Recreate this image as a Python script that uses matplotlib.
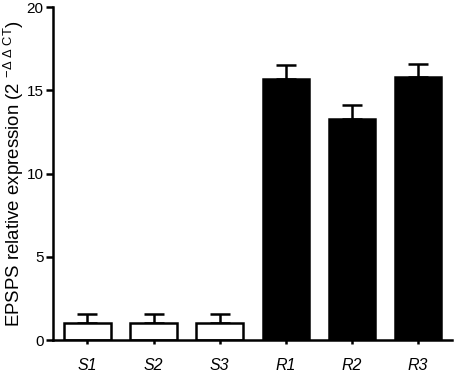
import numpy as np
import matplotlib
matplotlib.use("Agg")
import matplotlib.pyplot as plt

plt.rcParams['font.family'] = ['Liberation Sans', 'DejaVu Sans']
plt.rcParams['mathtext.fontset'] = 'custom'
plt.rcParams['mathtext.rm'] = 'Liberation Sans'
plt.rcParams['mathtext.it'] = 'Liberation Sans:italic'

samples = ['S1', 'S2', 'S3', 'R1', 'R2', 'R3']
expression = [1.0, 1.0, 1.0, 15.7, 13.3, 15.8]
sem = [0.55, 0.55, 0.55, 0.8, 0.8, 0.8]
fills = ['white', 'white', 'white', 'black', 'black', 'black']

fig = plt.figure(figsize=(4.54, 3.77), dpi=100)
ax = fig.add_axes([0.117, 0.098, 0.879, 0.883])

x = np.arange(len(samples))
lw = 1.8
ax.bar(x, expression, width=0.7, color=fills, edgecolor='black', linewidth=lw, zorder=2)
ax.errorbar(x, expression, yerr=[np.zeros(len(sem)), sem], fmt='none', ecolor='black',
            elinewidth=lw, capsize=7.5, capthick=lw, zorder=1)

ax.set_xlim(-0.52, 5.52)
ax.set_ylim(0, 20)
ax.set_yticks([0, 5, 10, 15, 20])
ax.set_xticks(x)
ax.set_xticklabels(samples, fontstyle='italic', fontsize=11.5)
ax.tick_params(axis='x', length=3, width=lw, pad=10)
ax.tick_params(axis='y', length=5, width=lw, labelsize=11, pad=2)
for s in ['top', 'right']:
    ax.spines[s].set_visible(False)
for s in ['left', 'bottom']:
    ax.spines[s].set_linewidth(lw)
ax.set_ylabel(r'EPSPS relative expression (2 $^{-\Delta\ \Delta\ \mathrm{CT}}$)', fontsize=13.4)
ax.yaxis.set_label_coords(-0.068, 0.5)

fig.savefig('out.png', dpi=100)
